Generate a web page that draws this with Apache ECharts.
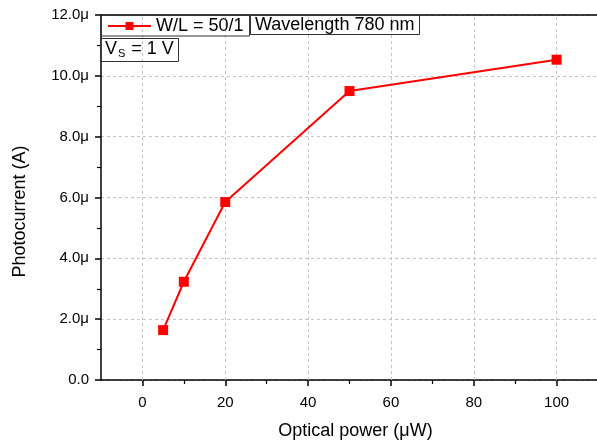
<!DOCTYPE html>
<html>
<head>
<meta charset="utf-8">
<script src="https://cdn.jsdelivr.net/npm/echarts@6/dist/echarts.min.js"></script>
<style>
  html, body { margin: 0; padding: 0; background: #fff; }
  #chart { width: 597px; height: 441px; }
</style>
</head>
<body>
<div id="chart"></div>
<script>
// optical power (uW) and photocurrent (uA)
var powerX = [5, 10, 20, 50, 100];
var currentY = [1.64, 3.23, 5.85, 9.5, 10.53];
var xMajor = [0, 20, 40, 60, 80, 100];
var xMinor = [10, 30, 50, 70, 90];
var seriesName = 'W/L = 50/1';

var font = "'Liberation Sans', Arial, sans-serif";
var chart = echarts.init(document.getElementById('chart'));

var pts = [];
for (var i = 0; i < powerX.length; i++) pts.push([powerX[i], currentY[i]]);

var gridX = [];
for (var k = 0; k < xMajor.length; k++) gridX.push({ xAxis: xMajor[k] });

var dash = { color: '#c4c4c4', type: [3, 3], width: 1 };

chart.setOption({
    animation: false,
    textStyle: { fontFamily: font, color: '#000' },
    grid: { left: 101, right: -1, top: 15, bottom: 61, containLabel: false, outerBoundsMode: 'none' },
    legend: {
        data: [seriesName],
        left: 101, top: 15,
        orient: 'horizontal',
        borderColor: '#333', borderWidth: 1,
        padding: [2, 6, 1, 6],
        itemWidth: 43, itemHeight: 10, itemGap: 4,
        textStyle: { fontFamily: font, fontSize: 18, color: '#000' }
    },
    title: [{
        text: 'Wavelength 780 nm',
        left: 250, top: 15,
        borderColor: '#333', borderWidth: 1,
        padding: [1, 5, 1, 5],
        textStyle: { fontFamily: font, fontSize: 18, fontWeight: 'normal', color: '#000' }
    }, {
        text: 'V{sub|S} = 1 V',
        left: 100, top: 37,
        borderColor: '#333', borderWidth: 1,
        padding: [2, 5, 3, 5],
        textStyle: {
            fontFamily: font, fontSize: 18, fontWeight: 'normal', color: '#000',
            rich: { sub: { fontFamily: font, fontSize: 11, verticalAlign: 'bottom', padding: [9, 1, 0, 1], color: '#000' } }
        }
    }],
    xAxis: [{
        type: 'value', min: -10, max: 110, interval: 10,
        name: 'Optical power (\u03bcW)', nameLocation: 'middle', nameGap: 42,
        nameTextStyle: { fontFamily: font, fontSize: 18, color: '#000', padding: [0, 0, 0, 12] },
        axisLine: { onZero: false, lineStyle: { color: '#000', width: 1.5 } },
        axisTick: { show: true, customValues: xMajor, length: 6, lineStyle: { color: '#000', width: 1.5 } },
        axisLabel: { customValues: xMajor, fontSize: 15, color: '#000', margin: 15, fontFamily: font },
        splitLine: { show: false }
    }, {
        type: 'value', min: -10, max: 110, interval: 10, position: 'bottom',
        axisLine: { show: false },
        axisTick: { show: true, customValues: xMinor, length: 4, lineStyle: { color: '#000', width: 1.2 } },
        axisLabel: { show: false },
        splitLine: { show: false }
    }, {
        type: 'value', min: -10, max: 110, position: 'top',
        axisLine: { show: true, lineStyle: { color: '#000', width: 1.5 } },
        axisTick: { show: false }, axisLabel: { show: false }, splitLine: { show: false }
    }],
    yAxis: {
        type: 'value', min: 0, max: 12, interval: 2,
        name: 'Photocurrent (A)', nameLocation: 'middle', nameGap: 72,
        nameTextStyle: { fontFamily: font, fontSize: 18, color: '#000', padding: [0, 28, 0, 0] },
        axisLine: { show: true, onZero: false, lineStyle: { color: '#000', width: 1.5 } },
        axisTick: { show: true, length: 6, lineStyle: { color: '#000', width: 1.5 } },
        minorTick: { show: true, splitNumber: 2, length: 4, lineStyle: { color: '#000', width: 1.2 } },
        axisLabel: {
            fontSize: 15, color: '#000', margin: 12, fontFamily: font,
            formatter: function (v) { return v === 0 ? '0.0' : v.toFixed(1) + '\u03bc'; }
        },
        splitLine: { show: true, lineStyle: dash }
    },
    series: [{
        name: seriesName,
        type: 'line',
        data: pts,
        symbol: 'rect', symbolSize: 10,
        itemStyle: { color: '#ff0000' },
        lineStyle: { color: '#ff0000', width: 2 },
        z: 5,
        markLine: {
            silent: true, symbol: 'none', label: { show: false },
            lineStyle: dash,
            data: gridX,
            z: 1
        }
    }]
});
</script>
</body>
</html>
